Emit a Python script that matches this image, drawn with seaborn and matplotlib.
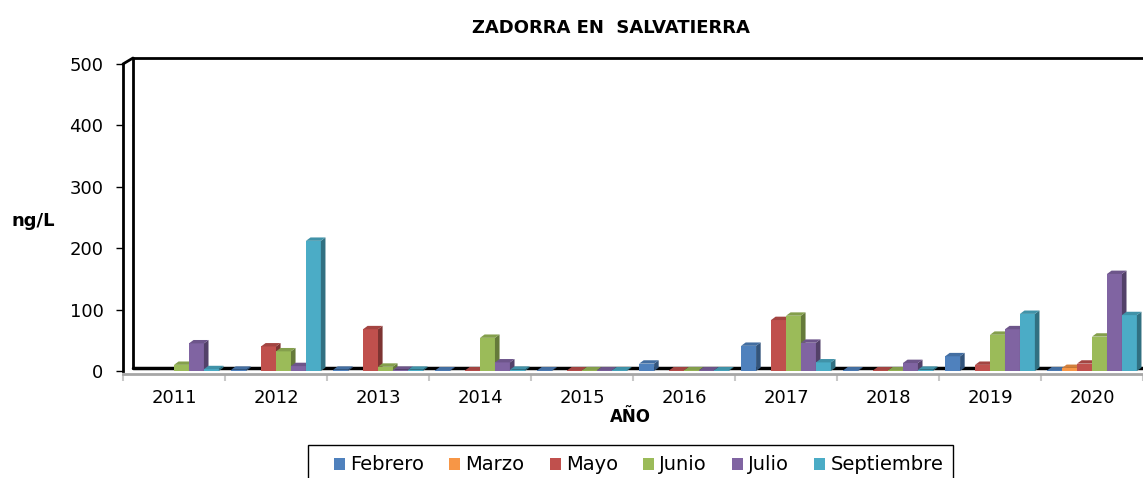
import numpy as np
import pandas as pd
import matplotlib
matplotlib.use("Agg")
import matplotlib.pyplot as plt
import matplotlib.transforms as mtransforms
from matplotlib.patches import Polygon, Rectangle
from matplotlib.lines import Line2D
from matplotlib.colors import to_rgb
import seaborn as sns

# ── data (ng/L), NaN = no sample ──────────────────────────────────────
years = ["2011", "2012", "2013", "2014", "2015", "2016", "2017", "2018", "2019", "2020"]
months = ["Febrero", "Marzo", "Mayo", "Junio", "Julio", "Septiembre"]
nan = np.nan
febrero    = [nan, 2, 2, 1, 1, 12, 41, 1, 24, 1]
marzo      = [nan, nan, nan, nan, nan, nan, nan, nan, nan, 5]
mayo       = [nan, 40, 68, 1, 1, 1, 83, 1, 10, 12]
junio      = [10, 32, 7, 54, 1, 1, 90, 1, 59, 56]
julio      = [45, 8, 2, 14, 1, 1, 46, 13, 68, 158]
septiembre = [3, 212, 2, 2, 1, 1, 14, 2, 93, 91]
colors = ["#4F81BD", "#F79646", "#C0504D", "#9BBB59", "#8064A2", "#4BACC6"]

series = [febrero, marzo, mayo, junio, julio, septiembre]
df = pd.DataFrame([
    {"year": y, "mes": m, "val": v}
    for m, vals in zip(months, series) for y, v in zip(years, vals)
])

sns.set_theme(style="white")
plt.rcParams["font.family"] = ["DejaVu Sans"]
plt.rcParams["text.color"] = "black"
plt.rcParams["axes.labelcolor"] = "black"
plt.rcParams["xtick.color"] = "black"
plt.rcParams["ytick.color"] = "black"

fig = plt.figure(figsize=(11.43, 4.78), dpi=100)
ax = fig.add_axes([123 / 1143, 107 / 478, 1020 / 1143, 307 / 478])

sns.barplot(data=df, x="year", y="val", hue="mes", order=years,
            hue_order=months, palette=colors, saturation=1, width=0.88,
            gap=0, linewidth=0, errorbar=None, ax=ax)

ax.set_xlim(-0.5, 9.5)
ax.set_ylim(0, 500)

# fake 3D: side and top faces from bar geometry
dx, dy = 0.045, 5.5
for container in ax.containers:
    for bar in container:
        h = bar.get_height()
        if not np.isfinite(h):
            continue
        x0, w = bar.get_x(), bar.get_width()
        z = 2 + 0.01 * (x0 + 1)
        bar.set_zorder(z)
        c = np.array(to_rgb(bar.get_facecolor()))
        side = Polygon([(x0 + w, 0), (x0 + w + dx, dy), (x0 + w + dx, h + dy), (x0 + w, h)],
                       closed=True, facecolor=c * 0.65, edgecolor="none", zorder=z)
        top = Polygon([(x0, h), (x0 + dx, h + dy), (x0 + w + dx, h + dy), (x0 + w, h)],
                      closed=True, facecolor=c * 0.85, edgecolor="none", zorder=z)
        ax.add_patch(side)
        ax.add_patch(top)

# walls / floor
off = mtransforms.ScaledTranslation(10 / 100, 6 / 100, fig.dpi_scale_trans)
tw = ax.transAxes + off
ax.add_line(Line2D([0, 0], [-0.01, 1.0], transform=tw, color="black", lw=2, clip_on=False, zorder=1))
ax.add_line(Line2D([0, 1], [1.0, 1.0], transform=tw, color="black", lw=2, clip_on=False, zorder=1))
ax.add_line(Line2D([0, 1], [0, 0], transform=ax.transAxes + mtransforms.ScaledTranslation(10 / 100, 3 / 100, fig.dpi_scale_trans),
                   color="black", lw=2.5, clip_on=False, zorder=1))
ax.add_line(Line2D([0, 10 / 1020], [1, 1 + 6 / 307], transform=ax.transAxes,
                   color="black", lw=2, clip_on=False))

for s in ["top", "right"]:
    ax.spines[s].set_visible(False)
ax.spines["left"].set_color("black")
ax.spines["left"].set_linewidth(2)
ax.spines["bottom"].set_color("#A6A6A6")
ax.spines["bottom"].set_linewidth(2)
ax.spines["bottom"].set_position(("outward", 2))

ax.set_yticks(range(0, 501, 100))
ax.tick_params(axis="y", left=True, length=5, width=1, color="black", labelsize=13, pad=9)
ax.set_xticks(range(len(years)))
ax.set_xticklabels(years)
ax.set_xticks(np.arange(-0.5, 10, 1), minor=True)
ax.tick_params(axis="x", which="major", bottom=False, length=0, labelsize=13, pad=11)
ax.tick_params(axis="x", which="minor", bottom=True, length=5, width=1.5, color="#C8C8C8")

ax.set_xlabel("AÑO", fontsize=12, fontweight="bold", va="center")
ax.xaxis.set_label_coords(0.497, -0.15)
ax.set_ylabel("ng/L", fontsize=13, fontweight="bold", rotation=0, ha="center", va="center")
ax.yaxis.set_label_coords(-0.088, 0.49)

fig.text(611 / 1143, 1 - 28 / 478, "ZADORRA EN  SALVATIERRA", ha="center", va="center",
         fontsize=13, fontweight="bold")

# legend, with its own box that runs past the bottom edge
handles, labels = ax.get_legend_handles_labels()
ax.get_legend().remove()
fig.legend(handles, labels, loc="center left", bbox_to_anchor=(334 / 1143, 1 - 465 / 478),
           ncol=6, frameon=False, fontsize=14,
           handlelength=0.57, handleheight=0.57, handletextpad=0.26, columnspacing=1.29,
           borderpad=0, borderaxespad=0)
fig.patches.append(Rectangle((308 / 1143, -0.05), (953 - 308) / 1143, 0.05 + 1 - 445 / 478,
                             transform=fig.transFigure, facecolor="none",
                             edgecolor="black", linewidth=1))

fig.savefig("out.png", dpi=100)
